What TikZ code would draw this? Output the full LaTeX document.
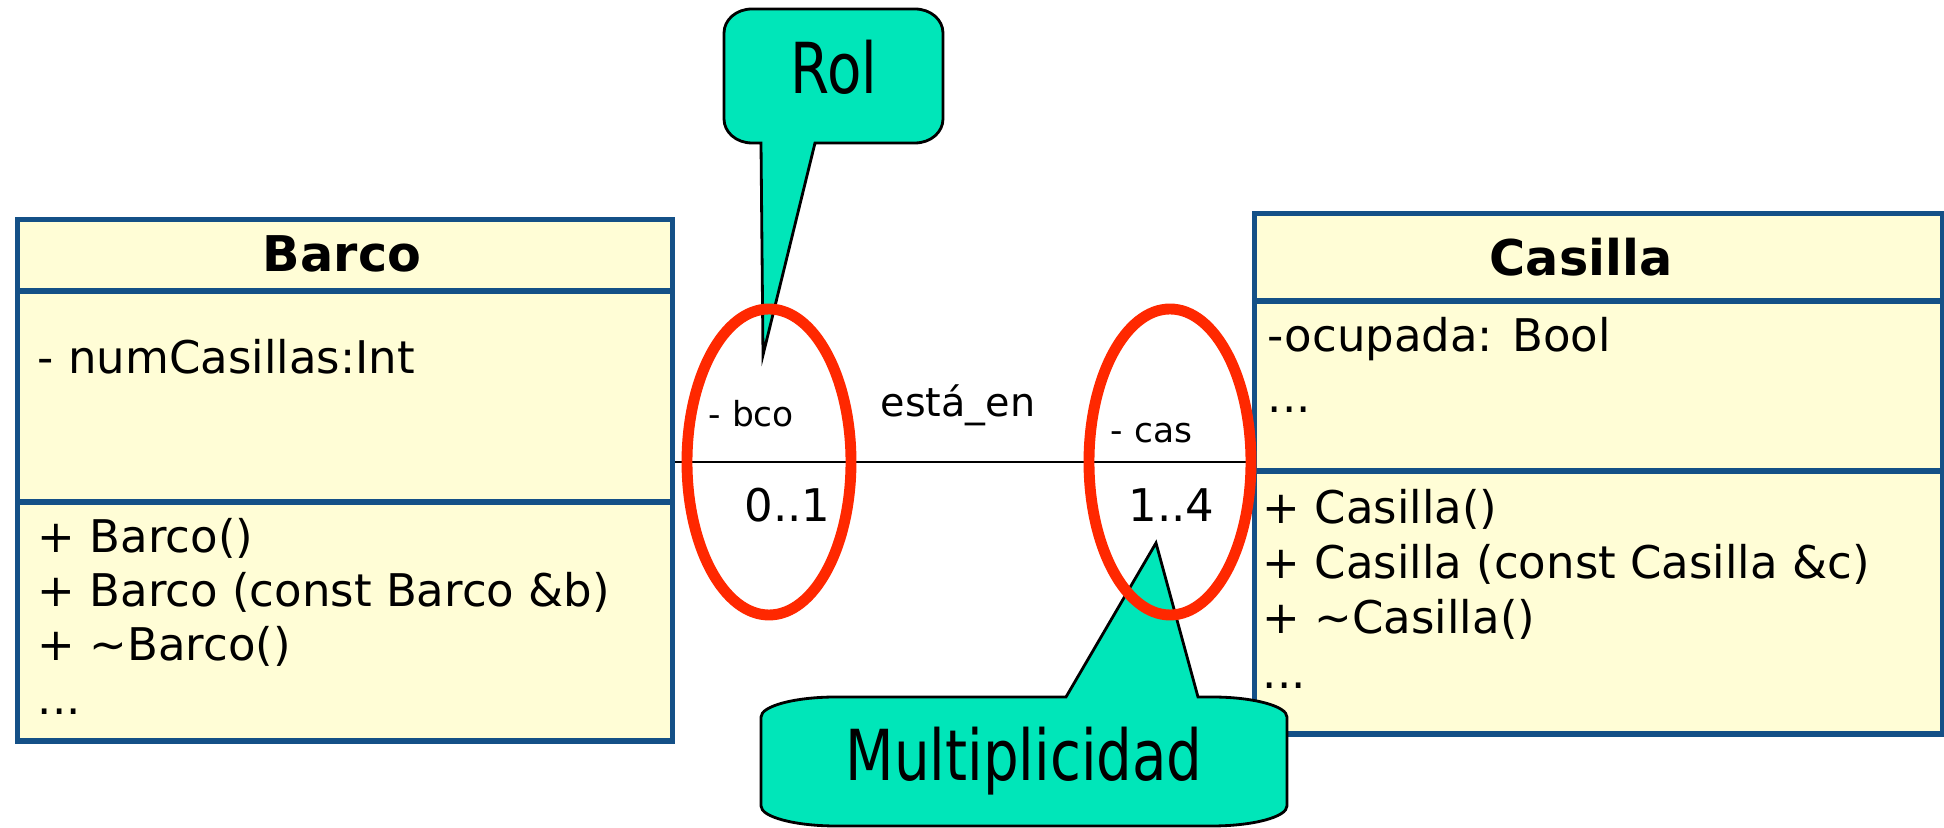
\documentclass[tikz,border=0pt]{standalone}
\usepackage{fontspec}
\setmainfont{DejaVu Sans}
\newfontfamily\notefont[FakeStretch=0.8]{DejaVu Sans}
\usepackage{tikz}
\definecolor{umlblue}{RGB}{20,80,135}
\definecolor{umlfill}{RGB}{255,253,214}
\definecolor{notefill}{RGB}{0,230,185}
\definecolor{red}{RGB}{255,40,0}

\begin{document}
\begin{tikzpicture}[x=0.01cm, y=-0.01cm,
    classbox/.style={draw=umlblue, fill=umlfill, line width=1.5pt, anchor=north west, inner sep=0pt},
    classline/.style={draw=umlblue, line width=1.5pt},
    classname/.style={font=\fontsize{14}{16}\selectfont\bfseries},
    member/.style={anchor=base west, inner sep=0pt, font=\fontsize{12.8}{15}\selectfont},
    rolelabel/.style={anchor=base west, inner sep=0pt, font=\fontsize{9.8}{11}\selectfont},
    notebox/.style={fill=notefill, draw=black, line width=0.8pt},
    ring/.style={draw=red, line width=3.1pt}]
    \useasboundingbox (0,0) rectangle (1944,828);

    % Barco
    \node[classbox, minimum width=6.545cm, minimum height=5.21cm] (barco) at (15,217) {};
    \draw[classline] (barco.west |- 0,291) -- (barco.east |- 0,291);
    \draw[classline] (barco.west |- 0,502) -- (barco.east |- 0,502);
    \node[classname] (barconame) at (342,254) {Barco};
    \node[member] (numcas) at (37,374) {- numCasillas:Int};
    \node[member] (bm1) at (37,553) {+ Barco()};
    \node[member] (bm2) at (37,607) {+ Barco (const Barco \&b)};
    \node[member] (bm3) at (37,661) {+ \textasciitilde Barco()};
    \node[member] (bm4) at (37,715) {...};

    % Casilla
    \node[classbox, minimum width=6.88cm, minimum height=5.2cm] (casilla) at (1252,211) {};
    \draw[classline] (casilla.west |- 0,301) -- (casilla.east |- 0,301);
    \draw[classline] (casilla.west |- 0,471) -- (casilla.east |- 0,471);
    \node[classname] (casillaname) at (1581,257) {Casilla};
    \node[member] (ocupada) at (1267,352) {-ocupada: Bool};
    \node[member] (ca2) at (1267,413) {...};
    \node[member] (cm1) at (1262,524) {+ Casilla()};
    \node[member] (cm2) at (1262,579) {+ Casilla (const Casilla \&c)};
    \node[member] (cm3) at (1262,634) {+ \textasciitilde Casilla()};
    \node[member] (cm4) at (1262,689) {...};

    % association
    \draw[line width=0.6pt] (barco.east |- 0,462) -- (casilla.west |- 0,462);
    \node[rolelabel] (bco) at (708,427) {- bco};
    \node[member] (multbco) at (744,522) {0..1};
    \node[anchor=base west, inner sep=0pt, font=\fontsize{11.3}{13}\selectfont] (assocname) at (880,417) {está\_en};
    \node[rolelabel] (cas) at (1110,443) {- cas};
    \node[member] (multcas) at (1128,522) {1..4};

    % notes
    \filldraw[notebox] (761,143) -- (763,355) -- (815,143) -- (915,143)
        .. controls (931,143) and (943,132) .. (943,119) -- (943,33)
        .. controls (943,20) and (931,9) .. (915,9) -- (752,9)
        .. controls (736,9) and (724,20) .. (724,33) -- (724,119)
        .. controls (724,132) and (736,143) .. (752,143) -- cycle;
    \node[font=\notefont\fontsize{20}{24}\selectfont, anchor=base] (rol) at (834,94) {Rol};

    \filldraw[notebox] (1066,697) -- (1156,543) -- (1198,697) -- (1212,697)
        .. controls (1253,697) and (1287,706) .. (1287,717) -- (1287,806)
        .. controls (1287,817) and (1253,826) .. (1212,826) -- (836,826)
        .. controls (795,826) and (761,817) .. (761,806) -- (761,717)
        .. controls (761,706) and (795,697) .. (836,697) -- cycle;
    \node[font=\notefont\fontsize{20}{24}\selectfont, anchor=base] (mult) at (1024,781) {Multiplicidad};

    % highlight rings
    \draw[ring] (769,462) ellipse [x radius=82, y radius=153];
    \draw[ring] (1170,462) ellipse [x radius=81, y radius=153];
\end{tikzpicture}
\end{document}
